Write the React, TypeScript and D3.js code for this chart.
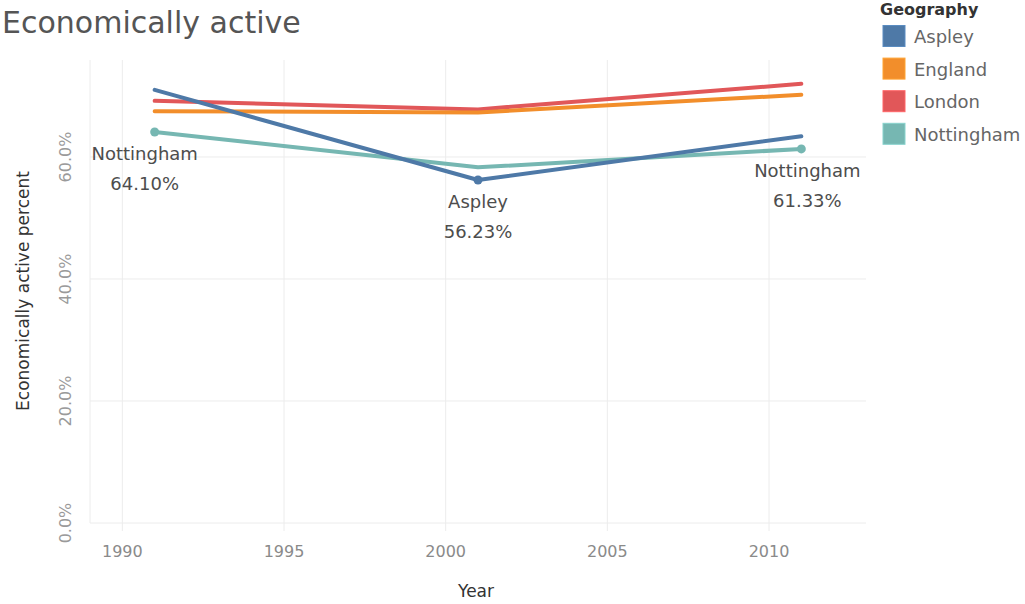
import { useEffect, useRef } from "react";
import * as d3 from "d3";

const years = [1991, 2001, 2011];
const geographies = ["Aspley", "England", "London", "Nottingham"];
const aspley = [71.0, 56.23, 63.4];
const england = [67.5, 67.3, 70.2];
const london = [69.2, 67.8, 72.0];
const nottingham = [64.1, 58.3, 61.33];
const palette = ["#4e79a7", "#f28e2b", "#e15759", "#76b7b2"];
const xTicks = [1990, 1995, 2000, 2005, 2010];
const yTicks = [0, 20, 40, 60];

// marks that carry a text label (geography, year index)
const labelled = [
  { geo: "Nottingham", idx: 0 },
  { geo: "Aspley", idx: 1 },
  { geo: "Nottingham", idx: 2 },
];
const labelShift = [-10, 0, 6];

const FONT = "'DejaVu Sans', sans-serif";

const App = () => {
  const svgRef = useRef<SVGSVGElement>(null);

  useEffect(() => {
    if (!svgRef.current) return;
    d3.select(svgRef.current).selectAll("*").remove();

    const width = 1025;
    const height = 604;
    const plot = { left: 90, right: 866, top: 60, bottom: 523 };

    const svg = d3.select(svgRef.current)
      .attr("width", width)
      .attr("height", height)
      .style("font-family", FONT);

    const seriesValues: Record<string, number[]> = {
      Aspley: aspley,
      England: england,
      London: london,
      Nottingham: nottingham,
    };
    const series = geographies.map((g, i) => ({
      name: g,
      color: palette[i],
      points: years.map((y, j) => ({ year: y, value: seriesValues[g][j] })),
    }));

    const x = d3.scaleLinear().domain([1989, 2013]).range([plot.left, plot.right]);
    const y = d3.scaleLinear().domain([0, 75.9]).range([plot.bottom, plot.top]);

    // Title
    svg.append("text")
      .attr("x", 2)
      .attr("y", 33)
      .style("font-size", "30px")
      .style("fill", "#555")
      .text("Economically active");

    // Gridlines
    const grid = svg.append("g");
    grid.selectAll(".vgrid")
      .data(xTicks)
      .join("line")
      .attr("x1", d => x(d)).attr("x2", d => x(d))
      .attr("y1", plot.top).attr("y2", plot.bottom + 8)
      .attr("stroke", "#ececec");
    grid.append("line")
      .attr("x1", plot.left).attr("x2", plot.left)
      .attr("y1", plot.top).attr("y2", plot.bottom)
      .attr("stroke", "#ececec");
    grid.selectAll(".hgrid")
      .data(yTicks)
      .join("line")
      .attr("x1", plot.left).attr("x2", plot.right)
      .attr("y1", d => y(d)).attr("y2", d => y(d))
      .attr("stroke", "#ececec");

    // X axis tick labels
    svg.selectAll(".xtick")
      .data(xTicks)
      .join("text")
      .attr("x", d => x(d))
      .attr("y", 557)
      .attr("text-anchor", "middle")
      .style("font-size", "16px")
      .style("fill", "#8a8a8a")
      .text(d => String(d));

    // Y axis tick labels (rotated)
    svg.selectAll(".ytick")
      .data(yTicks)
      .join("text")
      .attr("transform", d => `translate(71,${y(d)}) rotate(-90)`)
      .attr("text-anchor", "middle")
      .style("font-size", "16px")
      .style("fill", "#9a9a9a")
      .text(d => d3.format(".1f")(d) + "%");

    // Axis titles
    svg.append("text")
      .attr("x", 476)
      .attr("y", 597)
      .attr("text-anchor", "middle")
      .style("font-size", "17px")
      .style("fill", "#333")
      .text("Year");

    svg.append("text")
      .attr("transform", "translate(29,291) rotate(-90)")
      .attr("text-anchor", "middle")
      .style("font-size", "17px")
      .style("fill", "#333")
      .text("Economically active percent");

    // Lines
    const line = d3.line<{ year: number; value: number }>()
      .x(d => x(d.year))
      .y(d => y(d.value));

    svg.append("g")
      .selectAll("path")
      .data(series.slice().reverse())
      .join("path")
      .attr("d", d => line(d.points))
      .attr("fill", "none")
      .attr("stroke", d => d.color)
      .attr("stroke-width", 4)
      .attr("stroke-linecap", "round")
      .attr("stroke-linejoin", "round");

    // Labelled marks
    const marks = labelled.map((l, i) => {
      const s = series.find(d => d.name === l.geo)!;
      return { ...s.points[l.idx], name: s.name, color: s.color, shift: labelShift[i] };
    });

    svg.append("g")
      .selectAll("circle")
      .data(marks)
      .join("circle")
      .attr("cx", d => x(d.year))
      .attr("cy", d => y(d.value))
      .attr("r", 4.5)
      .attr("fill", d => d.color);

    const lbl = svg.append("g")
      .selectAll("g")
      .data(marks)
      .join("g")
      .attr("transform", d => `translate(${x(d.year) + d.shift},${y(d.value)})`);
    lbl.append("text")
      .attr("y", 28)
      .attr("text-anchor", "middle")
      .style("font-size", "18px")
      .style("fill", "#4d4d4d")
      .text(d => d.name);
    lbl.append("text")
      .attr("y", 58)
      .attr("text-anchor", "middle")
      .style("font-size", "18px")
      .style("fill", "#4d4d4d")
      .text(d => d3.format(".2f")(d.value) + "%");

    // Legend
    const legend = svg.append("g").attr("transform", "translate(880,0)");
    legend.append("text")
      .attr("x", 0)
      .attr("y", 15)
      .style("font-size", "16px")
      .style("font-weight", "bold")
      .style("fill", "#333")
      .text("Geography");

    const item = legend.selectAll(".item")
      .data(series)
      .join("g")
      .attr("transform", (_, i) => `translate(0,${25 + i * 32.6})`);
    item.append("rect")
      .attr("x", 3)
      .attr("y", 0.5)
      .attr("width", 22)
      .attr("height", 21)
      .attr("fill", d => d.color)
      .attr("stroke", d => d3.color(d.color)!.brighter(0.4).formatHex())
      .attr("stroke-width", 1);
    item.append("text")
      .attr("x", 34)
      .attr("y", 18)
      .style("font-size", "18px")
      .style("fill", "#666")
      .text(d => d.name);
  }, []);

  return (
    <div style={{ position: "absolute", left: 0, top: 0 }}>
      <svg ref={svgRef}></svg>
    </div>
  );
};

export default App;
